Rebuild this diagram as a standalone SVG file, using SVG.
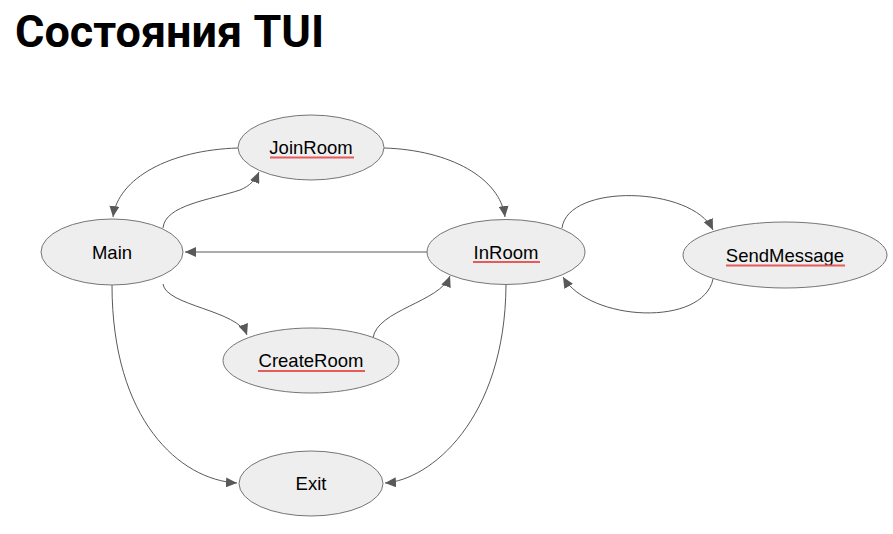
<svg xmlns="http://www.w3.org/2000/svg" width="893" height="534" viewBox="0 0 893 534">
<style>
.node ellipse{fill:#eeeeee;stroke:#757575;stroke-width:1}
.node text{font-family:"Liberation Sans",Arial,sans-serif;font-size:18.5px;fill:#000;text-anchor:middle}
.node line{stroke:#e55a5a;stroke-width:2}
.conn path{fill:none;stroke:#595959;stroke-width:1;marker-end:url(#arr)}
.title{font-family:Roboto,"Noto Sans",sans-serif;font-weight:bold;font-size:45px;fill:#000}
</style>
<defs>
<marker id="arr" markerUnits="userSpaceOnUse" markerWidth="12" markerHeight="10" refX="11" refY="5" orient="auto" viewBox="0 0 12 10">
<path d="M0,0 L11,5 L0,10 Z" fill="#595959"/>
</marker>
</defs>
<rect width="893" height="534" fill="#fff"/>
<text class="title" x="15" y="47">Состояния TUI</text>
<g class="conn">
<path d="M238,148 C170,150 118,178 113,217"/>
<path d="M163,228 C165,205 210,200 240,190 C250,186 256,179 259,172"/>
<path d="M384,148 C450,150 500,178 505,217"/>
<path d="M427,252 L185,252"/>
<path d="M163,284 C166,306 238,310 247,335"/>
<path d="M373,338 C377,310 440,302 450,276"/>
<path d="M112,285 C112,420 180,480 237,483"/>
<path d="M506,285 C505,420 430,480 385,483"/>
<path d="M562,228 C568,183 692,186 713,230"/>
<path d="M713,279 C703,327 590,322 563,277"/>
</g>
<g id="JoinRoom" class="node">
<ellipse cx="311" cy="147.5" rx="73" ry="32.5"/>
<text x="311" y="154">JoinRoom</text>
<line x1="270" y1="157.5" x2="354" y2="157.5"/>
</g>
<g id="Main" class="node">
<ellipse cx="112" cy="252" rx="71" ry="33"/>
<text x="112" y="259">Main</text>
</g>
<g id="InRoom" class="node">
<ellipse cx="506" cy="252" rx="79" ry="32.5"/>
<text x="506" y="259">InRoom</text>
<line x1="473" y1="262" x2="540" y2="262"/>
</g>
<g id="SendMessage" class="node">
<ellipse cx="785" cy="255" rx="102" ry="33"/>
<text x="785" y="262">SendMessage</text>
<line x1="726" y1="265.5" x2="845" y2="265.5"/>
</g>
<g id="CreateRoom" class="node">
<ellipse cx="311" cy="360.5" rx="88" ry="32.5"/>
<text x="311" y="367">CreateRoom</text>
<line x1="258" y1="371" x2="365" y2="371"/>
</g>
<g id="Exit" class="node">
<ellipse cx="311" cy="483.5" rx="72" ry="32.5"/>
<text x="311" y="490">Exit</text>
</g>
</svg>
